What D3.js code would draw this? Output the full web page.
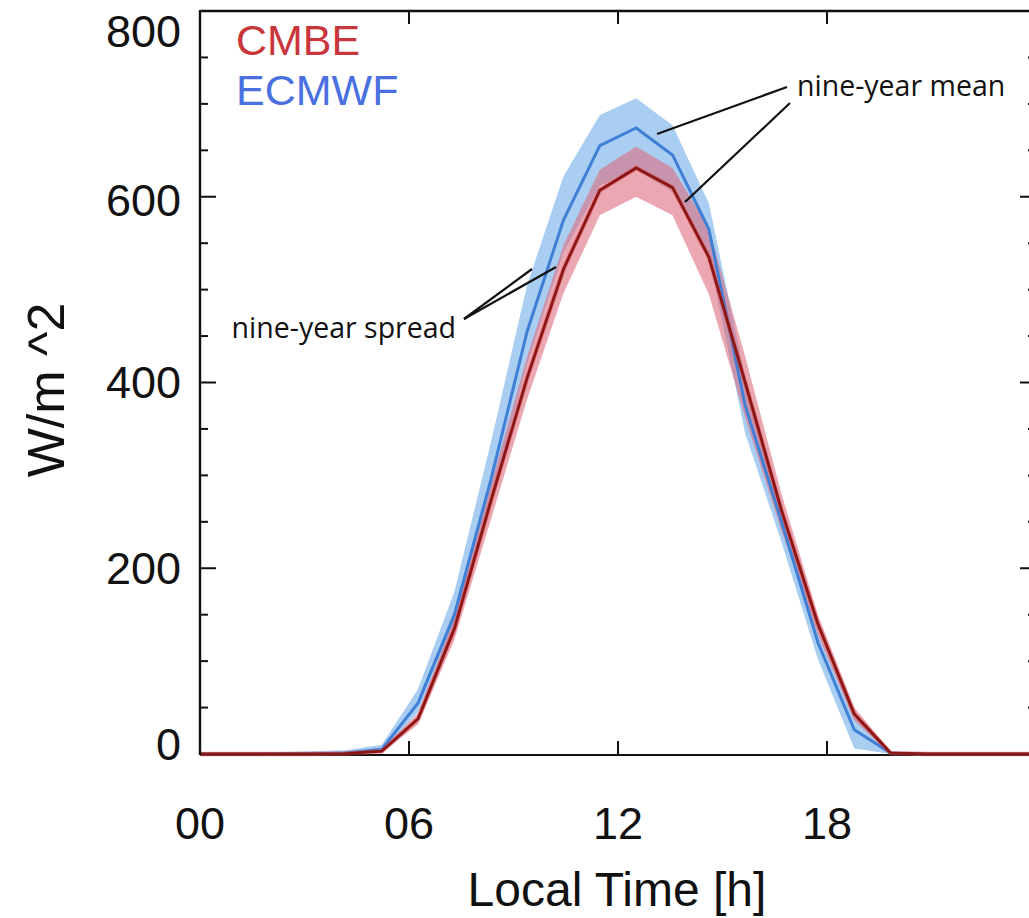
<!DOCTYPE html>
<html>
<head>
<meta charset="utf-8">
<script src="https://cdn.jsdelivr.net/npm/d3@7"></script>
<style>
  html, body { margin: 0; padding: 0; background: #fff; overflow: hidden; }
  svg { display: block; }
</style>
</head>
<body>
<svg id="chart" width="1029" height="918"></svg>
<script>
// Diurnal cycle of downwelling shortwave radiation (W/m^2), 24 samples per day
const sampleCount = 24;
const sampleTimes = d3.range(sampleCount).map(i => i * 24 / (sampleCount - 1));

const cmbeMean  = [0, 0, 0, 0, 0.5, 3, 38, 135, 272, 405, 522, 607, 631, 610, 535, 400, 262, 140, 43, 1, 0, 0, 0, 0];
const cmbeUpper = [0, 0, 0, 0, 1, 5, 44, 147, 290, 428, 548, 629, 654, 631, 566, 428, 280, 150, 50, 3, 0, 0, 0, 0];
const cmbeLower = [0, 0, 0, 0, 0, 1, 32, 123, 252, 382, 496, 580, 600, 580, 495, 362, 240, 128, 36, 0, 0, 0, 0, 0];

const ecmwfMean  = [0, 0, 0, 0, 1, 5, 55, 150, 295, 455, 575, 655, 674, 645, 565, 375, 250, 120, 26, 1, 0, 0, 0, 0];
const ecmwfUpper = [0, 0, 2, 3, 4, 10, 70, 175, 335, 505, 622, 688, 706, 677, 593, 405, 268, 132, 40, 3, 0, 0, 0, 0];
const ecmwfLower = [0, 0, 0, 0, 0, 2, 45, 135, 270, 420, 540, 612, 630, 605, 535, 345, 228, 102, 6, 0, 0, 0, 0, 0];

const yTicks = [0, 200, 400, 600, 800];
const yMinorTicks = d3.range(0, 801, 50);
const xTicks = [0, 6, 12, 18];
const xTickLabels = ["00", "06", "12", "18"];

const legendNames = ["CMBE", "ECMWF"];
const legendColors = ["#c8363c", "#4a6fe0"];

const svg = d3.select("#chart");
const plotLeft = 200, plotRight = 1036, plotTop = 11, plotBottom = 754;

const x = d3.scaleLinear().domain([0, 24]).range([plotLeft, plotRight]);
const y = d3.scaleLinear().domain([0, 800]).range([plotBottom, plotTop]);

// bottom axis line sits beneath the curves
svg.append("line")
  .attr("x1", plotLeft).attr("x2", plotRight).attr("y1", plotBottom + 1).attr("y2", plotBottom + 1)
  .attr("stroke", "#111").attr("stroke-width", 2.2);

const plot = svg.append("g");

const band = (lo, hi) => d3.area()
  .x((d, i) => x(sampleTimes[i]))
  .y0((d, i) => y(lo[i]))
  .y1((d, i) => y(hi[i]));

const line = vals => d3.line()
  .x((d, i) => x(sampleTimes[i]))
  .y((d, i) => y(vals[i]));

// spread envelopes
plot.append("path").datum(ecmwfUpper)
  .attr("d", band(ecmwfLower, ecmwfUpper))
  .attr("fill", "rgb(140,190,236)").attr("fill-opacity", 0.75);
plot.append("path").datum(cmbeUpper)
  .attr("d", band(cmbeLower, cmbeUpper))
  .attr("fill", "rgb(222,110,128)").attr("fill-opacity", 0.6);

// mean curves
plot.append("path").datum(ecmwfMean)
  .attr("d", line(ecmwfMean))
  .attr("fill", "none").attr("stroke", "#3f7fd6").attr("stroke-width", 3);
plot.append("path").datum(cmbeMean)
  .attr("d", line(cmbeMean))
  .attr("fill", "none").attr("stroke", "#e05050").attr("stroke-width", 4.5)
  .attr("stroke-opacity", 0.5);
plot.append("path").datum(cmbeMean)
  .attr("d", line(cmbeMean))
  .attr("fill", "none").attr("stroke", "#8a1616").attr("stroke-width", 2.8);

// frame
const frame = svg.append("g").attr("stroke", "#111").attr("stroke-width", 2.4).attr("fill", "none");
frame.append("line").attr("x1", plotLeft).attr("x2", plotLeft).attr("y1", plotTop - 1).attr("y2", plotBottom + 1);
frame.append("line").attr("x1", plotLeft).attr("x2", plotRight).attr("y1", plotTop).attr("y2", plotTop);
frame.append("line").attr("x1", plotRight).attr("x2", plotRight).attr("y1", plotTop).attr("y2", plotBottom);

// y ticks (left and right, major and minor)
const tickG = svg.append("g").attr("stroke", "#111").attr("stroke-width", 2);
yMinorTicks.forEach(v => {
  if (v === 0 || v === 800) return;
  const len = yTicks.includes(v) ? 16 : 8;
  tickG.append("line").attr("x1", plotLeft).attr("x2", plotLeft + len).attr("y1", y(v)).attr("y2", y(v));
  tickG.append("line").attr("x1", plotRight).attr("x2", plotRight - len).attr("y1", y(v)).attr("y2", y(v));
});
// x ticks (bottom and top)
xTicks.filter(t => t > 0).forEach(t => {
  tickG.append("line").attr("x1", x(t)).attr("x2", x(t)).attr("y1", plotBottom).attr("y2", plotBottom - 13);
  tickG.append("line").attr("x1", x(t)).attr("x2", x(t)).attr("y1", plotTop).attr("y2", plotTop + 13);
});

const font = "'Liberation Sans', Arial, Helvetica, sans-serif";

// y tick labels
const yLabelShift = { 0: -10, 600: 3, 800: 20 };
svg.append("g").selectAll("text").data(yTicks).join("text")
  .attr("x", 181)
  .attr("y", d => y(d) + (yLabelShift[d] || 0))
  .attr("dy", "0.35em")
  .attr("text-anchor", "end")
  .attr("font-family", font).attr("font-size", 45).attr("fill", "#111")
  .text(d => d);

// x tick labels
svg.append("g").selectAll("text").data(xTicks).join("text")
  .attr("x", d => x(d))
  .attr("y", 839)
  .attr("text-anchor", "middle")
  .attr("font-family", font).attr("font-size", 45).attr("fill", "#111")
  .text((d, i) => xTickLabels[i]);

// axis titles
svg.append("text")
  .attr("x", 617).attr("y", 906)
  .attr("text-anchor", "middle")
  .attr("font-family", font).attr("font-size", 48).attr("fill", "#111")
  .text("Local Time [h]");
svg.append("text")
  .attr("transform", "translate(64,390) rotate(-90)")
  .attr("text-anchor", "middle")
  .attr("font-family", font).attr("font-size", 52).attr("fill", "#111")
  .text("W/m ^2");

// legend
svg.append("g").selectAll("text").data(legendNames).join("text")
  .attr("x", 236)
  .attr("y", (d, i) => 55 + i * 50)
  .attr("font-family", font).attr("font-size", 43)
  .attr("fill", (d, i) => legendColors[i])
  .text(d => d);

// annotations
const annoFont = "'Open Sans', 'Noto Sans', sans-serif";
svg.append("text")
  .attr("x", 797).attr("y", 96)
  .attr("font-family", annoFont).attr("font-size", 28.5).attr("fill", "#111")
  .text("nine-year mean");
svg.append("text")
  .attr("x", 456).attr("y", 338)
  .attr("text-anchor", "end")
  .attr("font-family", annoFont).attr("font-size", 28.5).attr("fill", "#111")
  .text("nine-year spread");

const pointers = [
  [787, 87, 657, 134],
  [790, 103, 685, 202],
  [464, 319, 532, 269],
  [464, 319, 556, 267]
];
svg.append("g").selectAll("line").data(pointers).join("line")
  .attr("x1", d => d[0]).attr("y1", d => d[1])
  .attr("x2", d => d[2]).attr("y2", d => d[3])
  .attr("stroke", "#111").attr("stroke-width", 2.2);
</script>
</body>
</html>
